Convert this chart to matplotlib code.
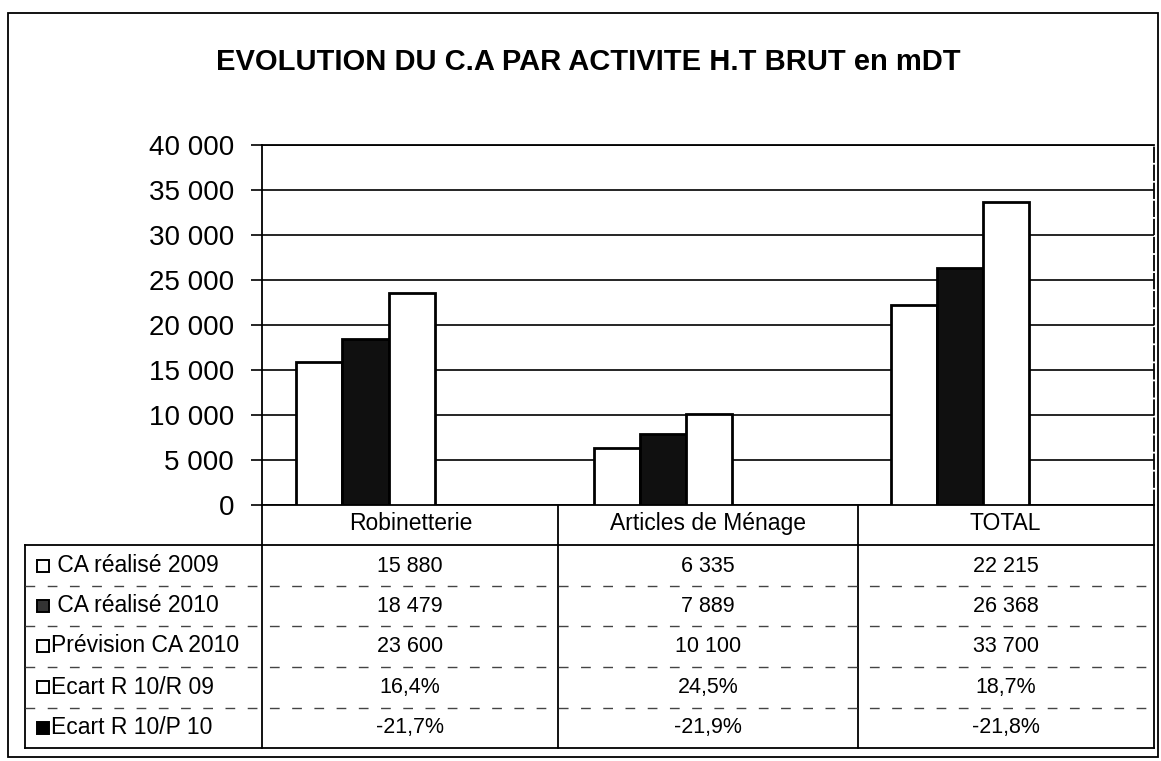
import matplotlib
matplotlib.use("Agg")
import matplotlib.pyplot as plt
from matplotlib.patches import Rectangle
import numpy as np

plt.rcParams['font.family'] = ['Liberation Sans', 'DejaVu Sans']

title = "EVOLUTION DU C.A PAR ACTIVITE H.T BRUT en mDT"
categories = ["Robinetterie", "Articles de Ménage", "TOTAL"]
ca_2009 = [15880, 6335, 22215]
ca_2010 = [18479, 7889, 26368]
prev_2010 = [23600, 10100, 33700]
ecart_r10_r09 = ["16,4%", "24,5%", "18,7%"]
ecart_r10_p10 = ["-21,7%", "-21,9%", "-21,8%"]
row_labels = [" CA réalisé 2009", " CA réalisé 2010", "Prévision CA 2010",
              "Ecart R 10/R 09", "Ecart R 10/P 10"]
yticks = [0, 5000, 10000, 15000, 20000, 25000, 30000, 35000, 40000]

W, H = 1161, 761
fig = plt.figure(figsize=(W / 100, H / 100), dpi=100)

# pixel layout
L, R, T, B = 262, 1154, 145, 505
ax = fig.add_axes([L / W, 1 - B / H, (R - L) / W, (B - T) / H])
ax.set_ylim(0, 40000)
ax.set_xlim(-0.5, 2.5)
ax.set_yticks(yticks)
ax.set_yticklabels([f"{v:,}".replace(",", " ") for v in yticks], fontsize=20)
ax.tick_params(axis='y', direction='out', length=8, width=1.2, pad=12)
ax.yaxis.grid(True, color='black', lw=1.2)
ax.set_axisbelow(True)
for s in ax.spines.values():
    s.set_color('black')
    s.set_linewidth(1.3)
ax.spines['right'].set_linestyle((0, (8, 2)))

x = np.arange(len(categories))
shift = -0.152
w = 0.155
series = [(ca_2009, 'white'), (ca_2010, '#101010'), (prev_2010, 'white')]
for j, (vals, col) in enumerate(series):
    ax.bar(x + shift + (j - 1) * w, vals, width=w, color=col,
           edgecolor='black', linewidth=2.0, zorder=3)

ax.set_xticks(x)
ax.set_xticklabels(categories, fontsize=16.5)
ax.tick_params(axis='x', length=0, pad=5)

# overlay in pixel coordinates for table and frame
ov = fig.add_axes([0, 0, 1, 1], zorder=-1)
ov.set_xlim(0, W)
ov.set_ylim(H, 0)
ov.axis('off')
ov.patch.set_alpha(0)

fig.text(0.5 + 8 / W, 1 - 62 / H, title, ha='center', va='center', fontsize=21,
         fontweight='bold')

# outer frame
ov.add_patch(Rectangle((8, 13), 1150, 744, fill=False, edgecolor='black', lw=1.3))

# table lines
tb_top, tb_bot, tb_left = 545, 748, 25
col_x = [L, 558, 858, R]
for cx in col_x:
    ov.plot([cx, cx], [B, tb_bot], color='black', lw=1.3)
ov.plot([tb_left, R], [tb_top, tb_top], color='black', lw=1.3)
ov.plot([tb_left, R], [tb_bot, tb_bot], color='black', lw=1.3)
ov.plot([tb_left, tb_left], [tb_top, tb_bot], color='black', lw=1.3)

row_y = [566, 606, 646, 687, 728]
sep_y = [586, 626, 667, 708]
for sy in sep_y:
    ov.plot([tb_left, R], [sy, sy], color='#444444', lw=1.0,
            linestyle=(0, (7, 9)))

rows = [[f"{v:,}".replace(",", " ") for v in ca_2009],
        [f"{v:,}".replace(",", " ") for v in ca_2010],
        [f"{v:,}".replace(",", " ") for v in prev_2010],
        ecart_r10_r09, ecart_r10_p10]
centers = [(col_x[i] + col_x[i + 1]) / 2 for i in range(3)]
for ry, rv in zip(row_y, rows):
    for cxc, t in zip(centers, rv):
        ov.text(cxc, ry, t, ha='center', va='center', fontsize=15.5)

marker_cols = ['white', '#333333', 'white', 'white', 'black']
for ry, lab, mc in zip(row_y, row_labels, marker_cols):
    ov.add_patch(Rectangle((37, ry - 6), 12, 12, facecolor=mc,
                           edgecolor='black', lw=1.4))
    ov.text(51, ry, lab, ha='left', va='center', fontsize=16.5)

fig.savefig("out.png", dpi=100, facecolor='white')
